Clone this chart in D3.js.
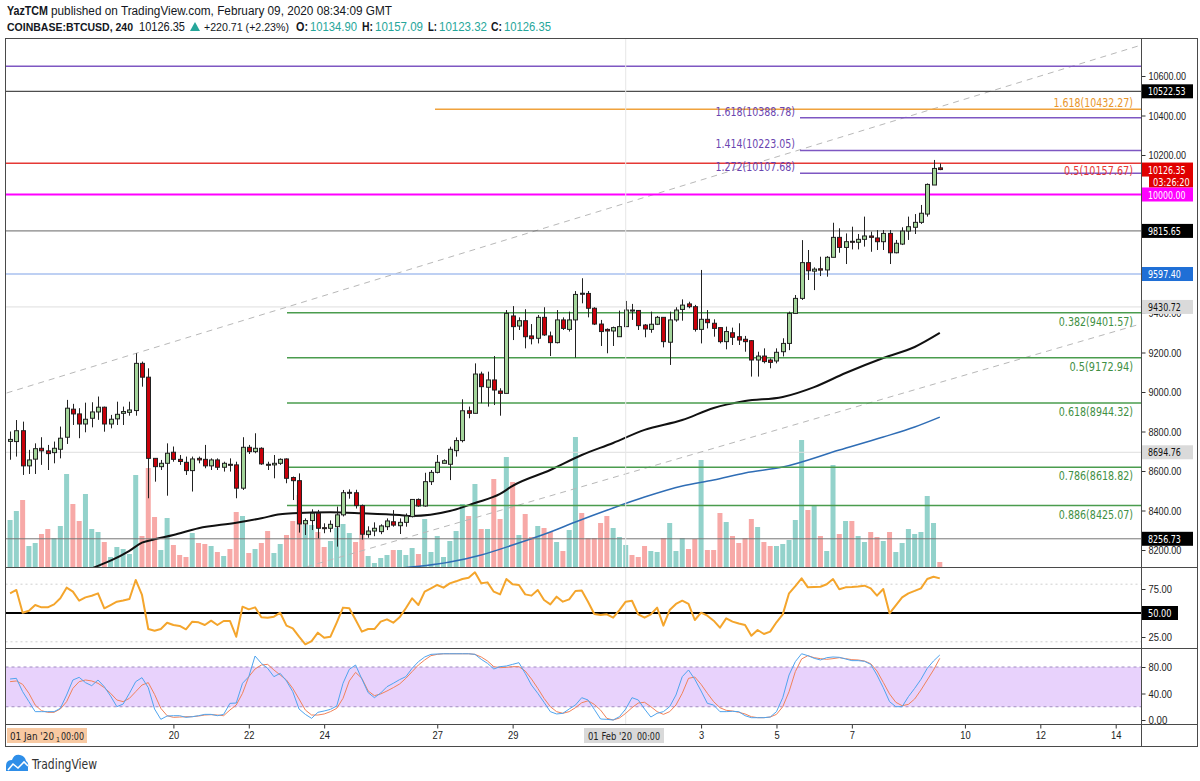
<!DOCTYPE html>
<html><head><meta charset="utf-8">
<script src="https://cdn.jsdelivr.net/npm/d3@7"></script>
<style>
body{margin:0;background:#fff;}
svg{display:block;font-family:"Liberation Sans Narrow","DejaVu Sans Condensed","Liberation Sans",sans-serif;}
.ax text{font-size:11px;fill:#222;}
.ax line{stroke:#333;}
</style></head><body>
<svg id="c" width="1200" height="781"></svg>
<script>
// ---------------- DATA ----------------
const opens = [8750,8749,8804,8626,8660,8715,8702,8693,8710,8771,
 8913,8889,8838,8867,8899,8923,8838,8864,8892,8897,
 8906,9145,9075,8664,8622,8639,8695,8659,8644,8602,
 8664,8659,8626,8656,8619,8634,8631,8513,8720,8698,
 8715,8634,8631,8639,8661,8567,8551,8332,8349,8386,
 8313,8310,8318,8378,8490,8490,8425,8278,8296,8293,
 8318,8343,8323,8340,8369,8456,8423,8546,8593,8639,
 8634,8703,8754,8905,8892,9091,9024,9061,9005,8993,
 9385,9334,9361,9284,9272,9378,9284,9250,9365,9317,
 9365,9500,9499,9424,9344,9317,9309,9280,9331,9415,
 9413,9339,9317,9343,9378,9252,9365,9418,9446,9432,
 9317,9368,9348,9326,9255,9300,9280,9267,9260,9162,
 9182,9162,9157,9204,9246,9398,9474,9655,9612,9624,
 9618,9682,9783,9732,9763,9758,9773,9790,9780,9761,
 9803,9705,9749,9815,9834,9859,9901,10048,10134.90];
const highs = [8800,8858,8850,8707,8740,8771,8732,8749,8825,8960,
 8940,8918,8946,8948,8977,8926,8884,8951,8926,8951,
 9196,9154,9120,8664,8656,8740,8724,8681,8673,8673,
 8673,8732,8664,8664,8647,8664,8647,8771,8732,8791,
 8720,8647,8681,8664,8664,8572,8588,8360,8406,8403,
 8335,8350,8420,8504,8507,8505,8430,8320,8340,8330,
 8360,8402,8360,8385,8456,8461,8591,8605,8681,8659,
 8723,8770,8963,8926,9145,9103,9103,9182,9019,9415,
 9435,9378,9419,9344,9390,9429,9306,9415,9378,9407,
 9511,9576,9511,9429,9365,9322,9331,9412,9461,9446,
 9415,9344,9407,9385,9378,9407,9429,9469,9457,9441,
 9618,9415,9368,9327,9331,9326,9348,9284,9263,9204,
 9221,9170,9221,9272,9407,9491,9769,9719,9631,9685,
 9688,9857,9829,9803,9837,9800,9888,9812,9820,9820,
 9820,9770,9834,9888,9901,9947,10056,10175,10157.09];
const lows = [8657,8673,8580,8585,8585,8631,8605,8639,8664,8737,
 8833,8766,8796,8821,8859,8799,8816,8833,8833,8880,
 8880,9027,8462,8546,8605,8475,8647,8631,8580,8496,
 8639,8614,8605,8605,8597,8597,8462,8504,8686,8690,
 8631,8605,8563,8631,8538,8453,8288,8276,8301,8259,
 8285,8290,8217,8370,8460,8410,8253,8262,8270,8280,
 8301,8318,8281,8318,8365,8419,8419,8529,8588,8639,
 8554,8673,8745,8867,8892,8943,8926,8934,8880,8993,
 9263,9314,9221,9241,9246,9284,9182,9246,9314,9306,
 9174,9449,9378,9339,9233,9196,9233,9280,9331,9365,
 9314,9277,9300,9339,9226,9137,9356,9361,9424,9306,
 9246,9322,9280,9246,9216,9238,9238,9204,9078,9078,
 9145,9120,9145,9180,9212,9396,9466,9567,9516,9587,
 9584,9682,9705,9648,9722,9722,9736,9710,9719,9719,
 9648,9702,9744,9770,9800,9851,9888,10048,10123.32];
const closes = [8760,8804,8626,8656,8713,8702,8688,8715,8766,8918,
 8889,8838,8862,8899,8923,8838,8862,8887,8901,8909,
 9145,9075,8664,8622,8639,8690,8659,8648,8602,8661,
 8656,8626,8656,8619,8639,8631,8513,8720,8698,8715,
 8636,8631,8639,8659,8563,8551,8332,8349,8386,8310,
 8310,8330,8378,8490,8492,8425,8280,8296,8310,8322,
 8347,8326,8340,8372,8456,8423,8546,8593,8644,8652,
 8710,8754,8905,8892,9091,9027,9061,9010,8993,9398,
 9331,9361,9280,9270,9378,9289,9250,9365,9322,9365,
 9494,9499,9424,9344,9306,9309,9326,9331,9415,9413,
 9336,9319,9343,9378,9255,9365,9415,9440,9432,9317,
 9368,9351,9322,9255,9306,9277,9263,9255,9162,9182,
 9154,9150,9201,9246,9398,9474,9655,9614,9622,9617,
 9682,9783,9732,9761,9758,9773,9790,9783,9761,9803,
 9705,9753,9815,9837,9859,9905,10051,10132,10126.35];
const volumes = [1880,2240,2680,840,960,1320,1520,1160,1640,3720,
 2520,1840,2920,1520,1400,1000,400,800,720,520,
 3680,1240,3960,2000,680,1960,880,480,400,1360,
 960,920,840,600,440,720,2200,2040,560,720,
 960,1440,560,920,1280,1840,2880,1680,1680,1400,
 800,1040,1560,1720,1360,1000,2400,440,160,360,
 480,680,680,480,760,520,1920,600,1240,400,
 1040,1440,2520,2040,3320,1520,1520,3520,1920,4400,
 3400,1280,2120,1200,1640,1560,1400,1000,640,1480,
 5200,2160,1160,1160,1760,2040,1560,1200,880,480,
 400,840,640,600,1160,1760,640,1160,720,1120,
 4280,680,680,2160,1800,1240,960,1160,1920,1600,
 1000,840,840,920,1080,1880,5080,2280,2440,1240,
 640,4080,1320,1840,1840,1240,1000,1400,1200,1040,
 1400,600,960,1520,1320,1400,2840,1760,200];
const rsi = [70.5,74.0,50.3,52.4,58.3,55.9,55.9,59.0,65.3,76.4,
 72.2,62.8,66.3,68.0,70.5,54.9,58.3,61.8,63.0,64.6,
 84.4,68.8,33.3,31.6,33.3,39.9,37.5,36.5,33.0,41.0,
 40.3,37.5,42.0,37.5,41.7,41.7,25.3,56.6,53.8,55.9,
 45.5,45.1,46.2,50.3,36.8,34.0,25.3,17.4,20.8,29.5,
 24.3,25.3,40.0,55.6,54.9,43.0,30.6,33.3,33.3,41.0,
 43.4,39.9,45.5,55.0,65.3,58.3,72.2,75.7,79.2,76.4,
 80.9,83.0,85.4,86.8,92.4,80.9,81.9,72.2,69.4,85.4,
 79.9,79.2,69.4,68.1,74.0,63.5,59.0,67.0,61.8,64.2,
 72.9,73.5,61.8,49.0,48.0,48.6,45.1,53.1,61.8,62.8,
 48.6,45.1,48.6,55.6,36.8,53.1,59.4,62.8,59.4,42.7,
 50.3,47.2,42.0,34.7,44.4,41.0,39.0,37.5,26.4,32.3,
 28.1,30.6,40.3,48.6,70.5,78.0,86.1,76.7,77.0,77.4,
 80.0,85.4,74.7,76.7,77.0,77.5,78.5,75.7,68.1,75.0,
 49.7,58.0,66.3,70.5,73.0,75.7,85.4,87.8,86.1];
const stochK = [61.9,62.9,42.8,27.7,12.6,12.6,12.6,12.6,17.6,37.7,
 60.4,64.4,56.4,51.8,60.4,50.3,36.2,20.1,24.1,40.3,
 57.9,63.9,48.8,16.6,1.0,6.0,6.5,6.5,4.0,5.0,
 6.5,8.5,8.5,6.5,8.5,25.1,25.6,55.4,65.4,96.6,
 85.5,78.0,65.4,70.4,58.9,42.8,16.6,8.5,2.5,11.6,
 13.6,16.1,21.1,55.4,76.5,83.0,61.9,41.3,33.7,40.8,
 50.3,55.4,60.9,65.4,78.0,88.0,95.1,99.1,99.6,100,
 100,100,100,100,99.1,91.6,85.5,77.0,80.5,81.5,
 84.0,86.5,70.4,52.8,40.3,26.7,12.6,9.1,10.1,16.6,
 22.6,33.7,30.2,16.1,1.5,1.0,0,5.0,16.6,33.7,
 30.2,16.6,4.5,10.1,12.6,20.1,37.7,65.4,75.5,61.4,
 43.8,25.1,22.6,12.6,12.6,13.1,12.6,6.5,3.5,3.5,
 3.5,4.5,12.6,33.7,67.9,88.1,100,97.1,93.1,90.6,
 94.1,95.1,94.6,92.1,89.6,89.6,88.6,84.0,67.9,48.8,
 27.7,20.1,20.1,35.2,47.8,61.4,78.0,89.1,98.1];
const stochD = [57.9,58.9,53.8,40.3,22.6,14.1,11.6,11.6,16.6,27.7,
 47.8,57.9,60.4,58.9,55.4,48.8,40.3,30.2,27.7,32.7,
 42.8,52.8,56.4,38.7,17.6,6.5,4.0,4.5,5.0,5.0,
 6.0,7.5,8.0,7.5,6.5,15.1,22.6,40.3,65.4,77.0,
 83.0,84.0,75.5,67.9,60.4,47.8,31.7,15.1,7.5,7.5,
 9.1,12.6,17.6,32.7,58.9,71.9,62.9,43.8,36.7,39.3,
 43.8,48.8,54.3,62.9,73.0,83.0,90.6,97.1,99.1,100,
 100,100,100,100,99.1,95.1,89.1,80.5,79.0,79.5,
 80.5,80.5,74.0,61.9,47.8,32.7,20.1,12.6,10.1,12.6,
 18.6,26.0,29.0,23.6,15.0,2.5,0,3.0,10.1,18.6,
 25.6,26.7,20.1,12.6,8.5,12.6,22.6,40.3,62.9,64.9,
 53.8,40.3,27.7,18.6,14.6,13.6,11.6,9.1,5.0,3.5,
 3.5,4.5,8.5,20.1,42.8,73.0,92.1,97.1,94.1,92.6,
 91.6,92.6,94.1,92.6,91.1,90.6,89.1,85.0,74.0,56.8,
 39.3,26.7,21.6,23.6,31.7,45.3,60.4,75.5,93.1];
// moving averages (candle index, price)
const maBlackIdx = [13,16,19,21,23,26,30,36,40,43,45,51,56,62,64,70,74,78,80,86,91,96,101,107,112,117,123,128,133,139,144,148];
const maBlackVal = [8107,8146,8196,8237,8254,8276,8310,8338,8361,8381,8386,8391,8386,8377,8372,8397,8438,8484,8525,8605,8681,8742,8808,8858,8919,8954,8975,9025,9096,9172,9228,9299];
const maBlueIdx = [61,70,75,80,86,90,96,101,107,112,117,123,132,139,144,148];
const maBlueVal = [8105,8139,8175,8225,8291,8342,8413,8468,8524,8554,8590,8620,8706,8772,8823,8873];
// drawings
const fibLevels = [9401.57,9172.94,8944.32,8618.82,8425.07];
const fibRatios = ["0.382","0.5","0.618","0.786","0.886"];
const extLevels = [10388.78,10223.05,10107.68];
const extRatios = ["1.618","1.414","1.272"];
const priceTicks = [8200,8400,8600,8800,9000,9200,9400,10200,10400,10600];
const rsiTicks = [25,75];
const stochTicks = [0,40,80];
const dayTicks = ["2020-01-20","2020-01-22","2020-01-24","2020-01-27","2020-01-29","2020-02-03","2020-02-05","2020-02-07","2020-02-10","2020-02-12","2020-02-14"];

// ---------------- LAYOUT ----------------
const PL=5.5, PR=1141.5, AR=1197.5;
const TOP=38.5, MB=567.5, RB=648.5, SB=724.5, TB=746.5;
const svg=d3.select("#c");
const t0=Date.UTC(2020,0,15,16);
const times=closes.map((_,i)=>new Date(t0+i*4*3600e3));
const x=d3.scaleUtc().domain([new Date(Date.UTC(2020,0,20)),new Date(Date.UTC(2020,1,14))]).range([173.4,1115.7]);
const y=d3.scaleLinear().domain([8200,10600]).range([550,76]);
const yV=d3.scaleLinear().domain([0,5200]).range([567,437]);
const yR=d3.scaleLinear().domain([0,100]).range([661,565]);
const yS=d3.scaleLinear().domain([0,100]).range([720,653.75]);
const GREEN="#26a69a";
const PC=4.7; // px per char for narrow labels
function fit(sel,pc){sel.attr("textLength",function(){return this.textContent.length*pc;}).attr("lengthAdjust","spacingAndGlyphs");}

const defs=svg.append("defs");
function clip(id,y0,y1){defs.append("clipPath").attr("id",id).append("rect").attr("x",PL).attr("y",y0).attr("width",PR-PL).attr("height",y1-y0);}
clip("cm",TOP,MB);clip("cr",MB,RB);clip("cs",RB,SB);

// ---------------- HEADER ----------------
const h1=svg.append("text").attr("y",15).attr("font-family","Liberation Sans, sans-serif").attr("font-size",12.5).attr("fill","#131722");
h1.append("tspan").attr("x",7).attr("font-weight","bold").attr("textLength",41).attr("lengthAdjust","spacingAndGlyphs").text("YazTCM");
h1.append("tspan").attr("x",51).attr("textLength",341).attr("lengthAdjust","spacingAndGlyphs").text("published on TradingView.com, February 09, 2020 08:34:09 GMT");
const segs=[["COINBASE:BTCUSD, 240",7,126,true,"#131722",11.2],["10126.35",139,46,false,"#131722",12.5],["+220.71 (+2.23%)",204,85,false,"#131722",11.3],
["O:",296,12,true,"#131722",12.5],["10134.90",310,47,false,GREEN,12.5],["H:",362,11,true,"#131722",12.5],["10157.09",375,48,false,GREEN,12.5],
["L:",428,9,true,"#131722",12.5],["10123.32",439,48,false,GREEN,12.5],["C:",491,11,true,"#131722",12.5],["10126.35",504,47,false,GREEN,12.5]];
segs.forEach(s=>svg.append("text").attr("y",31).attr("font-family","Liberation Sans, sans-serif").attr("font-size",s[5])
  .attr("x",s[1]).attr("textLength",s[2]).attr("lengthAdjust","spacingAndGlyphs").attr("font-weight",s[3]?"bold":"normal").attr("fill",s[4]).text(s[0]));
svg.append("path").attr("d","M190,31 L195,22 L200,31 Z").attr("fill",GREEN);

// ---------------- MAIN PANE ----------------
const gm=svg.append("g").attr("clip-path","url(#cm)");
svg.append("line").attr("x1",x(new Date(Date.UTC(2020,1,1)))).attr("x2",x(new Date(Date.UTC(2020,1,1)))).attr("y1",TOP).attr("y2",SB).attr("stroke","#e6e6e6");
// volume
gm.selectAll(".vol").data(volumes).join("rect").attr("class","vol")
 .attr("x",(d,i)=>x(times[i])-2.5).attr("width",5)
 .attr("y",d=>yV(d)).attr("height",d=>567.5-yV(d))
 .attr("fill",(d,i)=>closes[i]>=opens[i]?"#93d2cb":"#f7a9a7");
[[9430.72,"#dedede",1],[8694.76,"#dedede",1]].forEach(l=>gm.append("line").attr("x1",PL).attr("x2",PR).attr("y1",y(l[0])).attr("y2",y(l[0])).attr("stroke",l[1]).attr("stroke-width",l[2]));
// trend dashed lines
const trendA=[[new Date(Date.UTC(2020,0,15,13,50)),8995],[new Date(Date.UTC(2020,1,14,12,19)),10747]];
const trendB=[[new Date(Date.UTC(2020,0,23,12,53)),8115],[new Date(Date.UTC(2020,1,14,2,44)),9314]];
[trendA,trendB].forEach(t=>{
  const [a,b]=t; const xa=x(a[0]),xb=x(b[0]),ya=y(a[1]),yb=y(b[1]);
  const s=(yb-ya)/(xb-xa);
  gm.append("line").attr("x1",xa).attr("y1",ya).attr("x2",PR).attr("y2",ya+s*(PR-xa))
   .attr("stroke","#b8b8b8").attr("stroke-width",1).attr("stroke-dasharray","6,5");
});
// moving averages
const lineGen=d3.line().curve(d3.curveMonotoneX);
gm.append("path").attr("d",lineGen(maBlueIdx.map((k,i)=>[x(times[k]),y(maBlueVal[i])]))).attr("fill","none").attr("stroke","#2f6db5").attr("stroke-width",1.5);
gm.append("path").attr("d",lineGen(maBlackIdx.map((k,i)=>[x(times[k]),y(maBlackVal[i])]))).attr("fill","none").attr("stroke","#111").attr("stroke-width",2);
// horizontal levels
function hline(p,x0,color,w){gm.append("line").attr("x1",x0).attr("x2",PR).attr("y1",y(p)).attr("y2",y(p)).attr("stroke",color).attr("stroke-width",w);}
hline(10650,PL,"#7e57c2",1.5);
hline(10522.53,PL,"#222",1);
hline(10432.27,435,"#f0a23c",1.5);
extLevels.forEach(p=>hline(p,800,"#7e57c2",1.5));
hline(10157.67,PL,"#e53935",1.5);
hline(10000,PL,"#ff00ff",2);
hline(9815.65,PL,"#666",1);
hline(9597.40,PL,"#a9c1ef",1.5);
fibLevels.forEach(p=>hline(p,287,"#4a9c4e",1.5));
hline(8256.73,PL,"#777",1);
// candles
const cg=gm.append("g");
closes.forEach((c,i)=>{
  const cx=Math.round(x(times[i]))+0.5, up=c>=opens[i];
  cg.append("line").attr("x1",cx).attr("x2",cx).attr("y1",y(highs[i])).attr("y2",y(lows[i])).attr("stroke","#222").attr("stroke-width",1);
  const yt=y(Math.max(c,opens[i])), yb=y(Math.min(c,opens[i]));
  cg.append("rect").attr("x",cx-2).attr("width",4).attr("y",yt).attr("height",Math.max(1,yb-yt))
    .attr("fill",up?"#a3d49a":"#c8000a").attr("stroke","#222").attr("stroke-width",1);
});
// drawing labels
const LP=5.3;
fibLevels.forEach((p,i)=>fit(svg.append("text").attr("x",1133).attr("y",y(p)+13).attr("text-anchor","end").attr("font-size",12).attr("fill","#3f8f44").text(`${fibRatios[i]}(${p.toFixed(2)})`),LP));
extLevels.forEach((p,i)=>fit(svg.append("text").attr("x",795).attr("y",y(p)-2).attr("text-anchor","end").attr("font-size",12).attr("fill","#6a45b0").text(`${extRatios[i]}(${p.toFixed(2)})`),LP));
fit(svg.append("text").attr("x",1133).attr("y",y(10432.27)-2).attr("text-anchor","end").attr("font-size",12).attr("fill","#e8962b").text("1.618(10432.27)"),LP);
fit(svg.append("text").attr("x",1133).attr("y",y(10157.67)+12).attr("text-anchor","end").attr("font-size",12).attr("fill","#e53935").text("0.5(10157.67)"),LP);

// ---------------- RSI PANE ----------------
const gr=svg.append("g").attr("clip-path","url(#cr)");
[80,20].forEach(v=>gr.append("line").attr("x1",PL).attr("x2",PR).attr("y1",yR(v)).attr("y2",yR(v)).attr("stroke","#cfcfcf").attr("stroke-dasharray","2,3"));
gr.append("line").attr("x1",PL).attr("x2",PR).attr("y1",yR(50)).attr("y2",yR(50)).attr("stroke","#000").attr("stroke-width",2);
gr.append("path").attr("d",d3.line()(rsi.map((v,i)=>[x(times[i]),yR(v)]))).attr("fill","none").attr("stroke","#f4a52c").attr("stroke-width",2).attr("stroke-linejoin","round");

// ---------------- STOCH RSI PANE ----------------
const gs=svg.append("g").attr("clip-path","url(#cs)");
gs.append("rect").attr("x",PL).attr("width",PR-PL).attr("y",yS(80)).attr("height",yS(20)-yS(80)).attr("fill","#e8d2fc");
[80,20].forEach(v=>gs.append("line").attr("x1",PL).attr("x2",PR).attr("y1",yS(v)).attr("y2",yS(v)).attr("stroke","#a08cc0").attr("stroke-dasharray","3,3"));
gs.append("path").attr("d",d3.line()(stochD.map((v,i)=>[x(times[i]),yS(v)]))).attr("fill","none").attr("stroke","#f0825a").attr("stroke-width",1);
gs.append("path").attr("d",d3.line()(stochK.map((v,i)=>[x(times[i]),yS(v)]))).attr("fill","none").attr("stroke","#4fa4ee").attr("stroke-width",1);

// ---------------- AXES ----------------
const fmt=d3.format(".2f");
function rAxis(scale,ticks){
  const g=svg.append("g").attr("class","ax").attr("transform",`translate(${PR},0)`).call(d3.axisRight(scale).tickValues(ticks).tickFormat(fmt).tickSize(4).tickPadding(3));
  g.select(".domain").remove(); fit(g.selectAll("text"),PC); return g;
}
rAxis(y,priceTicks); rAxis(yR,rsiTicks); rAxis(yS,stochTicks);
const ta=svg.append("g").attr("class","ax").attr("transform",`translate(0,${SB})`).call(d3.axisBottom(x).tickValues(dayTicks.map(d=>new Date(d+"T00:00:00Z"))).tickFormat(d3.utcFormat("%-d")).tickSize(4).tickPadding(3));
ta.select(".domain").remove(); fit(ta.selectAll("text"),5.2);

// value labels on price scale
function tag(p,txt,bg,fg,x0,w,scale){
  const sc=scale||y; const yy=sc(p);
  svg.append("rect").attr("x",x0).attr("y",yy-7).attr("width",w).attr("height",14).attr("fill",bg);
  fit(svg.append("text").attr("x",x0+6).attr("y",yy+4).attr("font-size",11).attr("fill",fg).text(txt),PC);
}
tag(10522.53,"10522.53","#000","#fff",1142,51);
tag(10126.35,"10126.35","#e00000","#fff",1142,51);
svg.append("rect").attr("x",1149).attr("y",y(10126.35)+6).attr("width",44).attr("height",12).attr("fill","#e00000");
fit(svg.append("text").attr("x",1153).attr("y",y(10126.35)+16).attr("font-size",11).attr("fill","#fff").text("03:26:20"),4.6);
tag(10000,"10000.00","#ff00ff","#fff",1142,51);
tag(9815.65,"9815.65","#000","#fff",1142,51);
tag(9597.40,"9597.40","#1f6fd6","#fff",1142,51);
tag(9430.72,"9430.72","#dadada","#111",1142,51);
tag(8694.76,"8694.76","#dadada","#111",1142,51);
tag(8256.73,"8256.73","#000","#fff",1142,51);
tag(50,"50.00","#000","#fff",1142,36,yR);

// time axis highlight boxes
svg.append("rect").attr("x",7).attr("y",728).attr("width",80).attr("height",15).attr("fill","#f8c9a2");
svg.append("text").attr("x",10).attr("y",740).attr("font-size",9.8).attr("fill","#222").attr("textLength",44).attr("lengthAdjust","spacingAndGlyphs").text("01 Jan '20");
svg.append("text").attr("x",56).attr("y",742).attr("font-size",7).attr("fill","#222").text("1");
svg.append("text").attr("x",61).attr("y",740).attr("font-size",10).attr("fill","#222").attr("textLength",23).attr("lengthAdjust","spacingAndGlyphs").text("00:00");
svg.append("rect").attr("x",584).attr("y",728).attr("width",80).attr("height",15).attr("fill","#d9d9d9");
svg.append("text").attr("x",588).attr("y",740).attr("font-size",10).attr("fill","#222").attr("textLength",44).attr("lengthAdjust","spacingAndGlyphs").text("01 Feb '20");
svg.append("text").attr("x",637).attr("y",740).attr("font-size",10).attr("fill","#222").attr("textLength",23).attr("lengthAdjust","spacingAndGlyphs").text("00:00");

// ---------------- FRAME ----------------
const fr=svg.append("g").attr("stroke","#4a4a4a").attr("fill","none");
fr.append("rect").attr("x",PL).attr("y",TOP).attr("width",AR-PL).attr("height",TB-TOP);
fr.append("line").attr("x1",PR).attr("x2",PR).attr("y1",TOP).attr("y2",TB);
[MB,RB,SB].forEach(v=>fr.append("line").attr("x1",PL).attr("x2",AR).attr("y1",v).attr("y2",v));

// ---------------- LOGO ----------------
svg.append("path").attr("d","M6,771 L6,766 Q6,760 12,760 Q14,754 20,755 Q25,756 26,761 Q29,763 28,767 L28,771 Z").attr("fill","#2e8ee8");
svg.append("path").attr("d","M8,770 L13,764 L18,768 L24,762 L28,766").attr("fill","none").attr("stroke","#fff").attr("stroke-width",1.6);
svg.append("text").attr("x",32).attr("y",769).attr("font-size",14).attr("fill","#333").attr("textLength",65).attr("lengthAdjust","spacingAndGlyphs").text("TradingView");
</script></body></html>
